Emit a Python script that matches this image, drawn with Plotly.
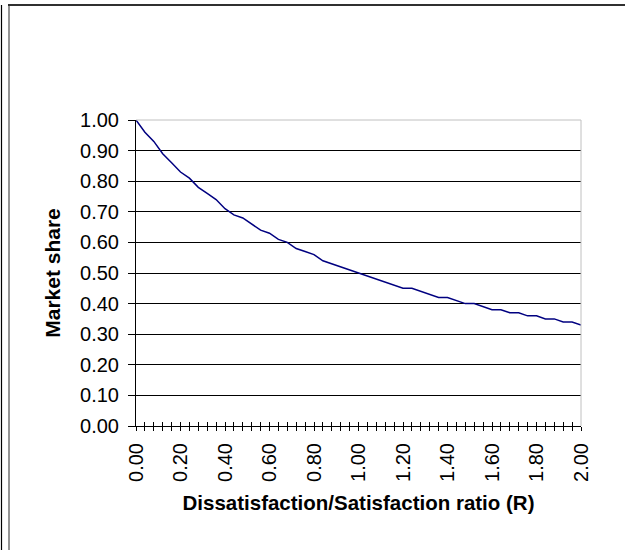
import plotly.graph_objects as go

# Data
R = [0.00, 0.04, 0.08, 0.12, 0.16, 0.20, 0.24, 0.28, 0.32, 0.36,
     0.40, 0.44, 0.48, 0.52, 0.56, 0.60, 0.64, 0.68, 0.72, 0.76,
     0.80, 0.84, 0.88, 0.92, 0.96, 1.00, 1.04, 1.08, 1.12, 1.16,
     1.20, 1.24, 1.28, 1.32, 1.36, 1.40, 1.44, 1.48, 1.52, 1.56,
     1.60, 1.64, 1.68, 1.72, 1.76, 1.80, 1.84, 1.88, 1.92, 1.96, 2.00]
market_share = [1.00, 0.96, 0.93, 0.89, 0.86, 0.83, 0.81, 0.78, 0.76, 0.74,
                0.71, 0.69, 0.68, 0.66, 0.64, 0.63, 0.61, 0.60, 0.58, 0.57,
                0.56, 0.54, 0.53, 0.52, 0.51, 0.50, 0.49, 0.48, 0.47, 0.46,
                0.45, 0.45, 0.44, 0.43, 0.42, 0.42, 0.41, 0.40, 0.40, 0.39,
                0.38, 0.38, 0.37, 0.37, 0.36, 0.36, 0.35, 0.35, 0.34, 0.34, 0.33]
x_tick_text = ["%.2f" % r if i % 5 == 0 else "" for i, r in enumerate(R)]
y_ticks = [0.0, 0.1, 0.2, 0.3, 0.4, 0.5, 0.6, 0.7, 0.8, 0.9, 1.0]

W, H = 625, 550
L, Rm, T, B = 136, 44, 120, 124
pw, ph = W - L - Rm, H - T - B

def px(x):
    return (x - L) / pw

def py(y):
    return 1 - (y - T) / ph

FONT = "Arial, Liberation Sans, sans-serif"

fig = go.Figure()
fig.add_trace(go.Scatter(x=R, y=market_share, mode="lines",
                         line=dict(color="#000080", width=1.5),
                         showlegend=False, hoverinfo="skip"))
# invisible trace to activate the overlay axis for inside ticks
fig.add_trace(go.Scatter(x=R, y=market_share, mode="lines", xaxis="x2",
                         line=dict(color="rgba(0,0,0,0)", width=0),
                         showlegend=False, hoverinfo="skip"))

fig.update_layout(
    width=W, height=H,
    margin=dict(l=L, r=Rm, t=T, b=B, pad=0),
    paper_bgcolor="white", plot_bgcolor="white",
    font=dict(family=FONT, color="black", size=20),
    xaxis=dict(range=[0, 2], tickmode="array", tickvals=R, ticktext=x_tick_text,
               tickangle=-90, ticks="outside", ticklen=4, tickwidth=1,
               tickcolor="black", showline=True, linecolor="black", linewidth=1,
               showgrid=False, zeroline=False, ticklabelstandoff=4,
               tickfont=dict(size=20),
               title=dict(text="<b>Dissatisfaction/Satisfaction ratio (R)</b>",
                          font=dict(size=20.5), standoff=14)),
    xaxis2=dict(range=[0, 2], overlaying="x", anchor="y", side="bottom",
                tickmode="array", tickvals=R, ticktext=[""] * len(R),
                ticks="inside", ticklen=4, tickwidth=1, tickcolor="black",
                showline=False, showgrid=False, zeroline=False),
    yaxis=dict(range=[0, 1], tickmode="array", tickvals=y_ticks,
               ticktext=["%.2f" % v for v in y_ticks],
               ticks="outside", ticklen=7, tickwidth=1, tickcolor="black",
               showline=True, linecolor="black", linewidth=1,
               showgrid=True, gridcolor="black", gridwidth=1, zeroline=False,
               ticklabelstandoff=5,
               tickfont=dict(size=20),
               title=dict(text="<b>Market share</b>", font=dict(size=21), standoff=13)),
)

shapes = [
    # plot area top and right borders (light gray)
    dict(type="line", xref="paper", yref="paper", x0=0, x1=1, y0=1, y1=1,
         line=dict(color="#c0c0c0", width=1), layer="above"),
    dict(type="line", xref="paper", yref="paper", x0=1, x1=1, y0=0, y1=1,
         line=dict(color="#c0c0c0", width=1), layer="above"),
    # page frame
    dict(type="line", xref="paper", yref="paper", x0=px(1.5), x1=px(1.5),
         y0=py(5), y1=py(560), line=dict(color="black", width=1.2), layer="above"),
    dict(type="line", xref="paper", yref="paper", x0=px(9), x1=px(9),
         y0=py(4.5), y1=py(560), line=dict(color="#707070", width=1.5), layer="above"),
    dict(type="line", xref="paper", yref="paper", x0=px(8.5), x1=px(625),
         y0=py(5), y1=py(5), line=dict(color="#303030", width=1.5), layer="above"),
]
fig.update_layout(shapes=shapes)

post = (
    "document.body.style.margin='0px';document.body.style.padding='0px';"
    "var d=document.createElement('div');"
    "d.style.cssText='position:fixed;left:8px;top:4px;width:617px;height:2px;"
    "background:#303030;z-index:9999;pointer-events:none;';"
    "document.body.appendChild(d);"
)
fig.write_html("out.html", config={"displayModeBar": False}, post_script=post)
